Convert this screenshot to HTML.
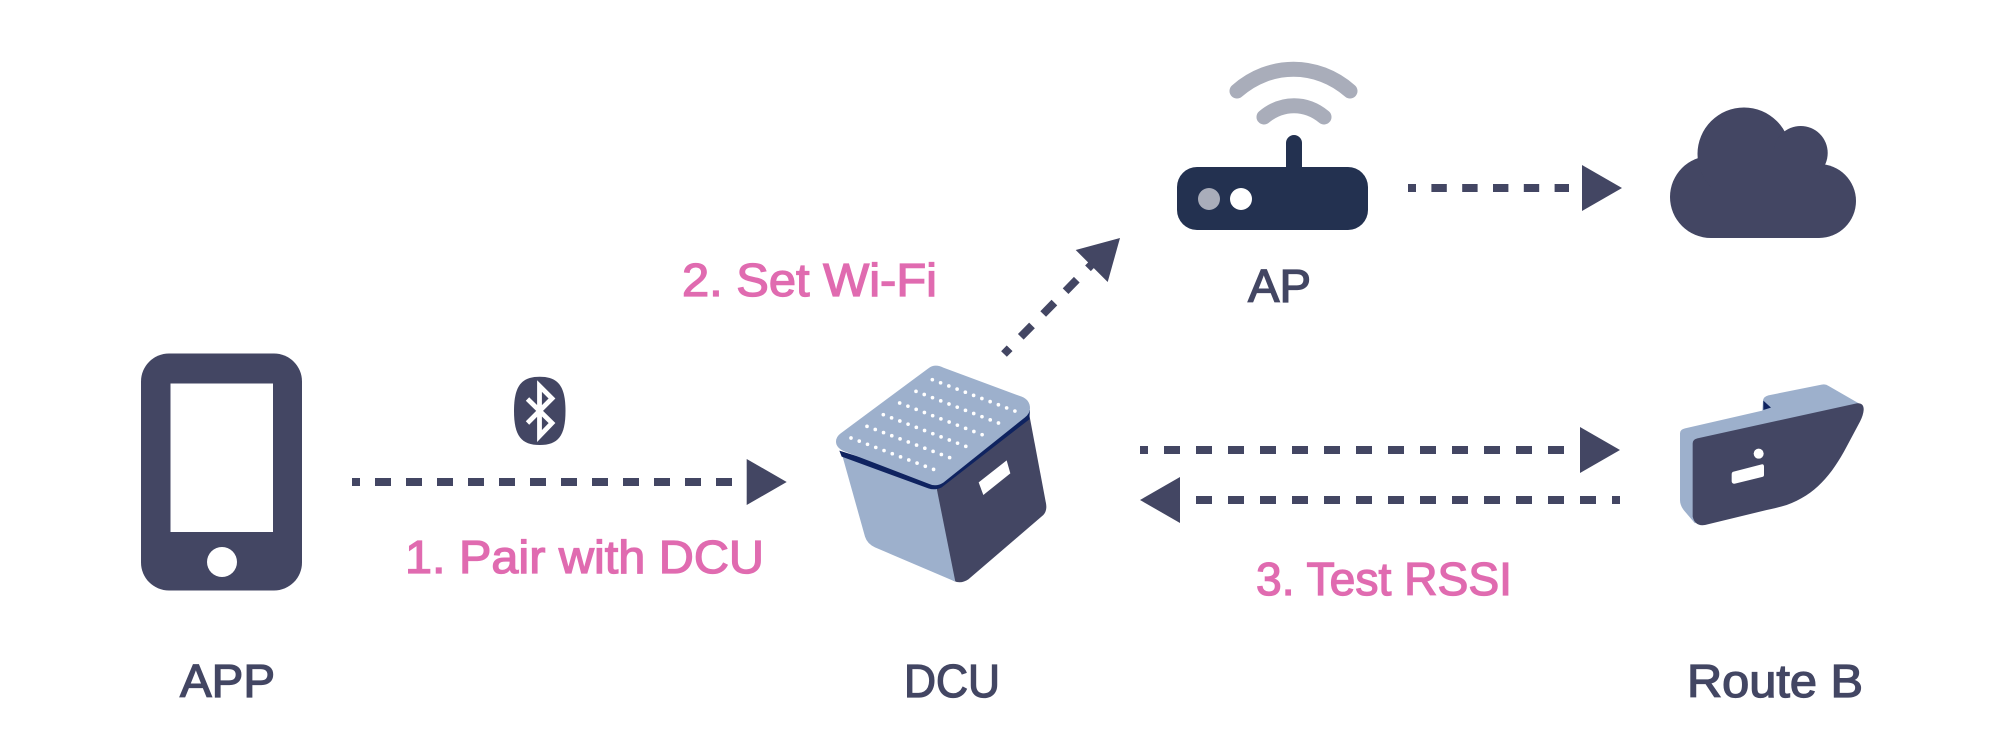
<!DOCTYPE html>
<html><head><meta charset="utf-8"><style>html,body{margin:0;padding:0;background:#fff}svg{display:block}text{font-family:"Liberation Sans",sans-serif;font-size:46px}.l{fill:#434663;stroke:#434663;stroke-width:1.300}.p{fill:#e06bb0;stroke:#e06bb0;stroke-width:1.300}</style></head><body>
<svg width="2000" height="738" viewBox="0 0 2000 738" xmlns="http://www.w3.org/2000/svg">
<!-- phone -->
<rect x="141" y="353.500" width="161" height="237" rx="28" fill="#434663"/>
<rect x="170.500" y="383.500" width="102.500" height="148.500" fill="#fff"/>
<circle cx="222" cy="562" r="15" fill="#fff"/>
<text class="l" x="180" y="697" textLength="95" lengthAdjust="spacingAndGlyphs">APP</text>
<!-- bluetooth -->
<path d="M539.700 376.700C558 376.700 565.500 386 565.500 411C565.500 436 558 445 539.700 445C521.500 445 514 436 514 411C514 386 521.500 376.700 539.700 376.700Z" fill="#434663"/>
<path d="M527.500 399L552 423L539.500 436V386L552 398.500L527.500 423" fill="none" stroke="#fff" stroke-width="4.800"/>
<!-- arrow 1 -->
<g fill="#434663">
<line x1="352" y1="482" x2="733" y2="482" stroke="#434663" stroke-width="8" stroke-dasharray="16 15" stroke-dashoffset="8"/>
<polygon points="746.700,459 786.700,482 746.700,505"/>
<!-- arrow pair -->
<line x1="1140" y1="450" x2="1564" y2="450" stroke="#434663" stroke-width="8" stroke-dasharray="16 16" stroke-dashoffset="8"/>
<polygon points="1580,427 1620,450 1580,473"/>
<line x1="1620" y1="500" x2="1196" y2="500" stroke="#434663" stroke-width="8" stroke-dasharray="16 16" stroke-dashoffset="8"/>
<polygon points="1180,477 1140,500 1180,523"/>
<!-- diagonal arrow -->
<line x1="1004" y1="354" x2="1101" y2="255" stroke="#434663" stroke-width="8" stroke-dasharray="8 16 16 16 16 16 16 16 16"/>
<polygon points="1120,238 1075.700,250 1107.700,282"/>
<!-- arrow AP to cloud -->
<line x1="1408" y1="188" x2="1569" y2="188" stroke="#434663" stroke-width="8" stroke-dasharray="15.400 15.400" stroke-dashoffset="7.400"/>
<polygon points="1582,165 1622,188 1582,211"/>
<!-- cloud -->
<circle cx="1711" cy="197" r="41"/><circle cx="1819" cy="201" r="37"/><circle cx="1744" cy="154" r="46.500"/><circle cx="1800.700" cy="153" r="27"/>
<rect x="1711" y="150" width="108" height="88"/>
</g>
<text class="p" x="405" y="573" textLength="359" lengthAdjust="spacingAndGlyphs">1. Pair with DCU</text>
<text class="p" x="682" y="296" textLength="255" lengthAdjust="spacingAndGlyphs">2. Set Wi-Fi</text>
<text class="p" x="1256" y="595" textLength="256" lengthAdjust="spacingAndGlyphs">3. Test RSSI</text>
<!-- router -->
<path d="M1237 91C1270 62 1317 62 1350 91" fill="none" stroke="#a9adba" stroke-width="15" stroke-linecap="round"/>
<path d="M1264 117C1282 102 1306 102 1324 117" fill="none" stroke="#a9adba" stroke-width="15" stroke-linecap="round"/>
<rect x="1286" y="135" width="16" height="40" rx="8" fill="#233150"/>
<rect x="1177" y="167" width="191" height="63" rx="20" fill="#233150"/>
<circle cx="1209" cy="199" r="11" fill="#a9adba"/><circle cx="1241" cy="199" r="11" fill="#fff"/>
<text class="l" x="1248" y="302" textLength="63" lengthAdjust="spacingAndGlyphs">AP</text>
<!-- DCU device -->
<g transform="translate(800 340) scale(.33333)">
<path d="M445 712Q475 738 505 718L730 525Q742 512 738 490L688 225L410 445Z" fill="#434663"/>
<path d="M125 340L195 590Q202 612 225 622L466 725L410 445Z" fill="#9db0cc"/>
<path d="M118 332L125 350L385 445Q405 452 425 442L688 238L690 210L400 420Z" fill="#0f2360"/>
<path d="M385 85Q405 70 430 83L665 170Q690 180 690 205Q690 220 675 232L430 428Q408 442 385 431L130 333Q108 322 108 305Q108 290 122 280Z" fill="#9db0cc"/>
<polygon points="536,427 620,361 631,400 550,465" fill="#fff"/>
<g stroke="#fff" stroke-width="11" stroke-linecap="round" stroke-dasharray="0 26.500" fill="none">
<line x1="153" y1="294" x2="403" y2="389"/><line x1="201" y1="259" x2="452" y2="354"/><line x1="250" y1="224" x2="500" y2="320"/><line x1="299" y1="189" x2="549" y2="285"/><line x1="348" y1="154" x2="598" y2="250"/><line x1="397" y1="119" x2="647" y2="214"/>
</g>
<polygon points="605,33 620,17 637,33 620,49" fill="#434663"/>
</g>
<text class="l" x="904" y="697" textLength="96" lengthAdjust="spacingAndGlyphs">DCU</text>
<!-- Route B device -->
<g transform="translate(1640 360) scale(.33333)">
<path d="M120 220Q120 208 135 205L367 152L369 122Q370 110 385 106L545 74Q556 71 566 78L665 135L300 350L165 490L135 455Q120 438 120 420Z" fill="#9db0cc"/>
<polygon points="370,122 393,143 370,150" fill="#0f2360"/>
<path d="M158 250Q158 238 172 235L650 130Q672 128 671 150Q670 165 660 185L620 260C575 345 525 405 440 435Q410 444 380 450L195 495Q165 500 158 470Z" fill="#434663"/>
<circle cx="356" cy="281" r="15" fill="#fff"/>
<path d="M281 335L365 313Q372 312 372 320V345Q372 350 366 351L285 371Q276 372 275 364V343Q275 336 281 335Z" fill="#fff"/>
</g>
<text class="l" x="1687" y="697" textLength="176" lengthAdjust="spacingAndGlyphs">Route B</text>
</svg>
</body></html>
